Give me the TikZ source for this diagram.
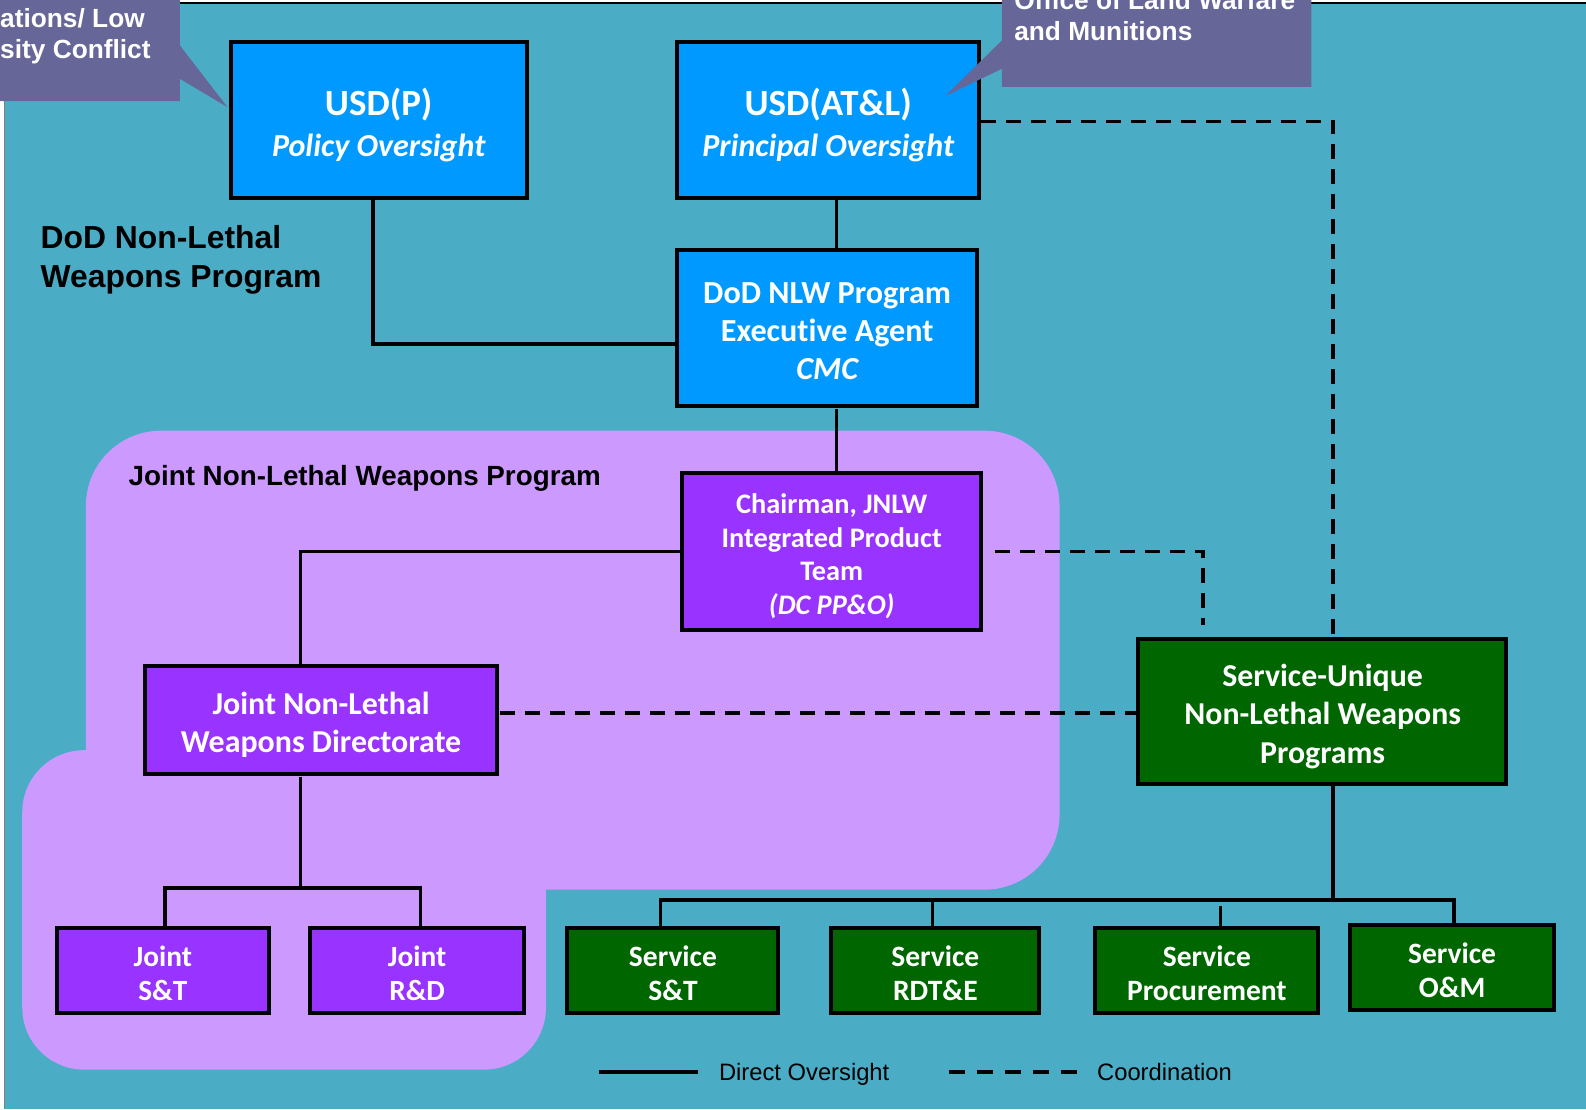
\documentclass[tikz,border=0pt]{standalone}
\usepackage{fontspec}
\setmainfont{Carlito}[Ligatures=NoCommon]
\newfontfamily\arialf{Liberation Sans}
\definecolor{bgteal}{HTML}{4BACC6}
\definecolor{callout}{HTML}{666699}
\definecolor{nlblue}{HTML}{0099FF}
\definecolor{lav}{HTML}{CC99FF}
\definecolor{nlpurple}{HTML}{9933FF}
\definecolor{nlgreen}{HTML}{006600}
\newcommand{\fs}[2]{\fontsize{#1}{#2}\selectfont}
\begin{document}
\begin{tikzpicture}[x=1pt,y=-1pt,
  box/.style={draw=black, line width=4pt, inner sep=0pt},
  boxtext/.style={text=white, align=center, inner sep=0pt},
  bluebox/.style={box, fill=nlblue},
  purplebox/.style={box, fill=nlpurple},
  greenbox/.style={box, fill=nlgreen},
  conn/.style={draw=black, line width=3.5pt},
  coordl/.style={draw=black, line width=3.5pt, dash pattern=on 15pt off 10pt},
  title/.style={font=\arialf\bfseries, text=black, inner sep=0pt, align=left},
  calltext/.style={font=\arialf\bfseries\fs{26}{31}, text=white, inner sep=0pt, anchor=base west},
  legtext/.style={font=\arialf\fs{23.5}{28}, text=black, inner sep=0pt, anchor=base west}
]
\useasboundingbox (0,0) rectangle (1586,1109);
% background
\fill[white] (0,0) rectangle (1586,1109);
\fill[bgteal] (5,3) rectangle (1586,1109);
\draw[gray, line width=1.2pt] (4.5,3) -- (4.5,1109);
\draw[black, line width=1.5pt] (0,3.2) -- (1586,3.2);

\begin{scope}[scale=1.011, transform shape]
% lavender joint program region
\fill[lav, rounded corners=75pt] (85,426) rectangle (1048,880);
\fill[lav, rounded corners=62pt] (22,742) rectangle (540,1058);

% titles
\node[title, font=\arialf\bfseries\fs{31.5}{39}, anchor=west] (dodtitle) at (40,257) {DoD Non-Lethal\\Weapons Program};
\node[title, font=\arialf\bfseries\fs{27.5}{33}, anchor=base west] (jtitle) at (127,480) {Joint Non-Lethal Weapons Program};

% boxes
\node[bluebox, minimum width=293pt, minimum height=154pt] (usdp) at (374.5,119) {};
\node[bluebox, minimum width=298pt, minimum height=154pt] (usdatl) at (819,119) {};
\node[bluebox, minimum width=296pt, minimum height=155pt] (dod) at (818,324.5) {};
\node[purplebox, minimum width=295pt, minimum height=155pt] (chair) at (822.5,545.5) {};
\node[purplebox, minimum width=349pt, minimum height=107pt] (jnlwd) at (317.5,712.5) {};
\node[purplebox, minimum width=210pt, minimum height=84pt] (jst) at (161,960) {};
\node[purplebox, minimum width=211pt, minimum height=84pt] (jrd) at (412.5,960) {};
\node[greenbox, minimum width=364pt, minimum height=143pt] (suniq) at (1308,703.5) {};
\node[greenbox, minimum width=209pt, minimum height=84pt] (sst) at (665.5,960) {};
\node[greenbox, minimum width=206pt, minimum height=84pt] (srdte) at (925,960) {};
\node[greenbox, minimum width=221pt, minimum height=84pt] (sproc) at (1193.5,960) {};
\node[greenbox, minimum width=202pt, minimum height=84pt] (som) at (1436,957) {};

% box texts
\node[boxtext, font=\bfseries\fs{31.7}{41}] (usdp-t) at ([yshift=-4.5pt]usdp.center)
  {{\fs{36.5}{41}USD(P)}\\{\itshape Policy Oversight}};
\node[boxtext, font=\bfseries\fs{31.7}{41}] (usdatl-t) at ([yshift=-4.5pt]usdatl.center)
  {{\fs{36.5}{41}USD(AT\&L)}\\{\itshape Principal Oversight}};
\node[boxtext, font=\bfseries\fs{31.8}{37.5}] (dod-t) at ([yshift=-3pt]dod.center)
  {DoD NLW Program\\Executive Agent\\{\itshape CMC}};
\node[boxtext, font=\bfseries\fs{28}{33.3}] (chair-t) at ([yshift=-4.5pt]chair.center)
  {Chairman, JNLW\\Integrated Product\\Team\\{\itshape (DC PP\&O)}};
\node[boxtext, font=\bfseries\fs{31.6}{38}] (jnlwd-t) at ([yshift=-4.5pt]jnlwd.center)
  {Joint Non-Lethal\\Weapons Directorate};
\node[boxtext, font=\bfseries\fs{29}{34}] (jst-t) at ([yshift=-2.5pt]jst.center) {Joint\\S\&T};
\node[boxtext, font=\bfseries\fs{29}{34}] (jrd-t) at ([yshift=-2.5pt]jrd.center) {Joint\\R\&D};
\node[boxtext, font=\bfseries\fs{31.5}{38.5}] (suniq-t) at ([yshift=-5pt]suniq.center)
  {Service-Unique\\Non-Lethal Weapons\\Programs};
\node[boxtext, font=\bfseries\fs{29.2}{34}] (sst-t) at ([yshift=-2.5pt]sst.center) {Service\\S\&T};
\node[boxtext, font=\bfseries\fs{29.2}{34}] (srdte-t) at ([yshift=-2.5pt]srdte.center) {Service\\RDT\&E};
\node[boxtext, font=\bfseries\fs{29.2}{34}] (sproc-t) at ([yshift=-2.5pt]sproc.center) {Service\\Procurement};
\node[boxtext, font=\bfseries\fs{29.2}{34}] (som-t) at ([yshift=-2.5pt]som.center) {Service\\O\&M};

% helper coordinates
\coordinate (spine) at (827,0);
\coordinate (jx) at (297,0);
\coordinate (jbar) at (297,878);
\coordinate (sx) at (1318,0);
\coordinate (sbar) at (1318,890);

% solid connectors
\draw[conn] ([xshift=-5.5pt]usdp.south) |- ([yshift=-15.5pt]dod.west);
\draw[conn] (usdatl.south -| spine) -- (dod.north -| spine);
\draw[conn] (dod.south -| spine) -- (chair.north -| spine);
\draw[conn] (chair.west) -| (jx |- jnlwd.north);
\draw[conn] (jx |- jnlwd.south) -- (jbar);
\draw[conn] ([xshift=2pt]jst.north) |- (jbar) -| ([xshift=3.5pt]jrd.north);
\draw[conn] (sx |- suniq.south) -- (sbar);
\draw[conn] ([xshift=-12.5pt]sst.north) |- (sbar) -| ([xshift=2pt]som.north);
\draw[conn] ([xshift=-3pt]srdte.north) -- ([xshift=-3pt]srdte.north |- sbar);
\draw[conn] ([xshift=13.5pt]sproc.north) -- ([xshift=13.5pt,yshift=-6pt]sproc.north |- sbar);

% dashed coordination
\draw[coordl] (usdatl.east |- 0,120) -| (sx |- suniq.north);
\draw[coordl, shorten <=12pt, shorten >=12pt] (chair.east) -| (1190,0 |- suniq.north);
\draw[coordl] (jnlwd.east |- 0,705) -- (suniq.west |- 0,705);

% callouts
\fill[callout] (0,0) -- (178,0) -- (178,45) -- (225,106) -- (178,78) -- (178,100) -- (0,100) -- cycle;
\node[calltext] (cl1) at (0,27) {ations/ Low};
\node[calltext] (cl2) at (0,58) {sity Conflict};
\fill[callout] (991,0) -- (1297,0) -- (1297,86) -- (991,86) -- (991,68) -- (935,95) -- (991,40) -- cycle;
\node[calltext] (cr1) at (1003,9) {Office of Land Warfare};
\node[calltext] (cr2) at (1003,40) {and Munitions};

% legend
\coordinate (l1a) at (592,1060);
\coordinate (l1b) at (690,1060);
\coordinate (l2a) at (938,1060);
\coordinate (l2b) at (1066,1060);
\draw[conn] (l1a) -- (l1b);
\draw[black, line width=3.5pt, dash pattern=on 16pt off 12pt] (l2a) -- (l2b);
\node[legtext] (leg1) at (711,1069) {Direct Oversight};
\node[legtext] (leg2) at (1085,1069) {Coordination};
\end{scope}
\end{tikzpicture}
\end{document}
